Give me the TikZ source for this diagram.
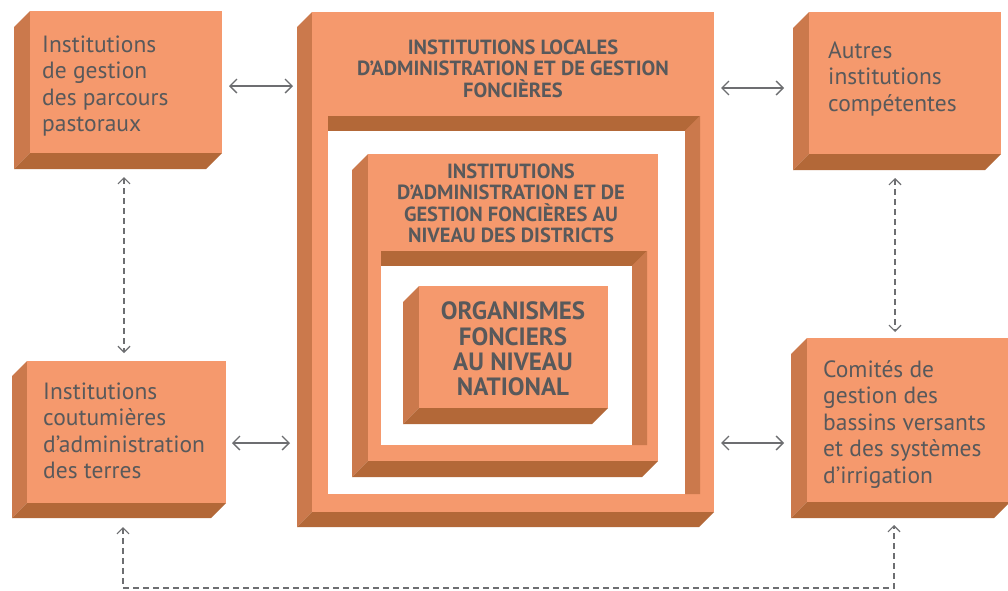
\documentclass[tikz,border=0pt]{standalone}
\usepackage{fontspec}
\setmainfont{PT Sans}
\usetikzlibrary{arrows.meta,calc}
\definecolor{facec}{HTML}{F5996D}
\definecolor{sidec}{HTML}{CB794C}
\definecolor{botc}{HTML}{B36838}
\definecolor{txtc}{HTML}{58595B}
\definecolor{arrc}{HTML}{6D6E71}
\tikzset{
  facebox/.style={fill=facec, draw=none, inner sep=0pt, outer sep=0pt},
  regtext/.style={text=txtc, inner sep=0pt, align=left, anchor=north west,
    font=\fontsize{23.5}{26.5}\selectfont},
  boldtext/.style={text=txtc, inner sep=0pt, align=center, anchor=north,
    font=\bfseries\fontsize{20.5}{21.5}\selectfont},
  bigbold/.style={text=txtc, inner sep=0pt, align=center, anchor=north,
    font=\bfseries\fontsize{25}{24.7}\selectfont},
  biarrow/.style={draw=arrc, line width=1.3pt, >={Straight Barb[length=7pt,width=14pt]}, <->},
  dasharrow/.style={draw=arrc, line width=1.2pt, dash pattern=on 6pt off 4pt,
    >={Straight Barb[length=6pt,width=12pt]}, <->}
}
% name, x1, y1, x2, y2, depth
\newcommand{\solidbox}[6]{%
  \fill[sidec] (#2-#6,#3+#6) -- (#2,#3) -- (#2,#5) -- (#2-#6,#5+#6) -- cycle;
  \fill[botc] (#2-#6,#5+#6) -- (#2,#5) -- (#4,#5) -- (#4-#6,#5+#6) -- cycle;
  \node[facebox, minimum width={#4-#2}, minimum height={#5-#3}] (#1) at ({(#2+#4)/2},{(#3+#5)/2}) {};
}
% x1, y1, x2, y2, depth
\newcommand{\framehole}[5]{%
  \fill[botc] (#1,#2) -- (#3,#2) -- (#3-#5,#2+#5) -- (#1,#2+#5) -- cycle;
  \fill[sidec] (#3-#5,#2+#5) -- (#3,#2) -- (#3,#4) -- (#3-#5,#4) -- cycle;
  \fill[white] (#1,#2+#5) rectangle (#3-#5,#4);
}
\begin{document}
\begin{tikzpicture}[x=1pt,y=-1pt]
\useasboundingbox (0,0) rectangle (1008,590);
\clip (0,0) rectangle (1008,590);
\fill[white] (0,0) rectangle (1008,590);

% side boxes
\solidbox{tl}{30}{11}{222}{153}{16}
\solidbox{bl}{27}{361}{226}{503}{15}
\solidbox{tr}{809}{12}{1001}{154}{16}
\solidbox{br}{807}{338}{1010}{502}{16}

% central nested frames
\solidbox{outerf}{312}{12}{714}{512}{15}
\framehole{328}{116}{700}{494}{15}
\solidbox{midf}{368}{154}{658}{461}{16}
\framehole{381}{251}{647}{445}{15}
\solidbox{innf}{419}{286}{608}{408}{16}

% texts
\node[regtext] (tltxt) at (42,{52-0.7*26.5}) {\strut Institutions\\de gestion\\des parcours\\pastoraux};
\node[regtext] (bltxt) at (43,{399-0.7*26.5}) {\strut Institutions\\coutumières\\d’administration\\des terres};
\node[regtext] (trtxt) at (828,{58-0.7*26.5}) {\strut Autres\\institutions\\compétentes};
\node[regtext] (brtxt) at (823,{377-0.7*26.5}) {\strut Comités de\\gestion des\\bassins versants\\et des systèmes\\d’irrigation};

\node[boldtext] (outtxt) at (513,{54-0.7*21.5}) {\strut INSTITUTIONS LOCALES\\D’ADMINISTRATION ET DE GESTION\\FONCIÈRES};
\node[boldtext] (midtxt) at (511,{178-0.7*21.5}) {\strut INSTITUTIONS\\D’ADMINISTRATION ET DE\\GESTION FONCIÈRES AU\\NIVEAU DES DISTRICTS};
\node[bigbold] (inntxt) at (513,{319-0.7*25}) {\strut ORGANISMES\\FONCIERS\\AU NIVEAU\\NATIONAL};

% horizontal double arrows
\draw[biarrow] ($(tl.east)+(7,4)$) -- ($(tl.east -| outerf.west)+(-19,4)$);
\draw[biarrow] ($(tr.west -| outerf.east)+(7,5)$) -- ($(tr.west)+(-25,5)$);
\draw[biarrow] ($(bl.east)+(6,11)$) -- ($(bl.east -| outerf.west)+(-22,11)$);
\draw[biarrow] ($(br.west -| outerf.east)+(7,23)$) -- ($(br.west)+(-23,23)$);

% dashed connectors
\draw[dasharrow] ($(tl.south)+(-2,24)$) -- ($(tl.south |- bl.north)+(-2,-8)$);
\draw[dasharrow] ($(tr.south)+(-10,24)$) -- ($(tr.south |- br.north)+(-10,-6)$);
\coordinate (blend) at ($(bl.south)+(-3.5,24)$);
\coordinate (brend) at ($(br.south)+(-14.5,23)$);
\draw[dasharrow] (blend) -- (blend |- 0,588) -| (brend);
\end{tikzpicture}
\end{document}
